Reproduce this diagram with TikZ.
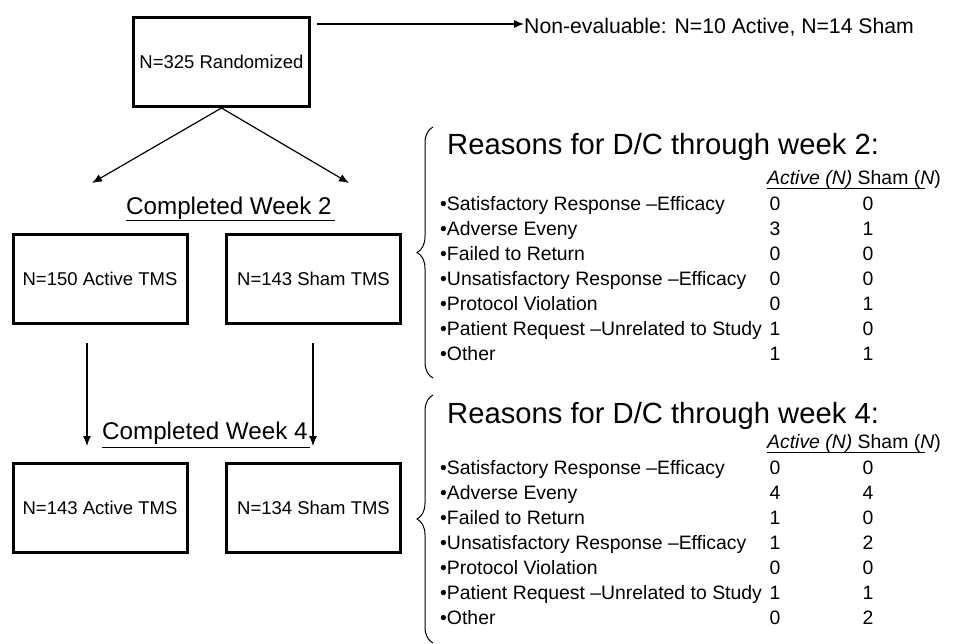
\documentclass[tikz,border=0pt]{standalone}
\usepackage{fontspec}
\setmainfont{Liberation Sans}
\usetikzlibrary{arrows.meta,decorations.pathreplacing}
\tikzstyle{block} = [rectangle, draw, line width=3pt, text centered, minimum width=174pt, minimum height=89pt, font=\fontsize{18.5}{22}\selectfont]
\tikzstyle{weeklabel} = [inner sep=0pt, anchor=base west, font=\fontsize{24.2}{28}\selectfont]
\tikzstyle{heading} = [inner sep=0pt, anchor=base west, font=\fontsize{29.2}{34}\selectfont]
\tikzstyle{reason} = [inner sep=0pt, anchor=base west, font=\fontsize{19.4}{23}\selectfont]
\tikzstyle{count} = [inner sep=0pt, anchor=base, font=\fontsize{19.4}{23}\selectfont]
\tikzstyle{bracket} = [decorate, decoration={brace, amplitude=16pt}, line width=1pt]

\begin{document}
\begin{tikzpicture}[x=1pt, y=1pt, node distance=213.5pt, >={Latex[length=10pt,width=8pt]}]
   \useasboundingbox (0,0) rectangle (977,-643);
   % nodes
   \node[block, minimum width=176pt] (rand) at (221.5,-62)   {N=325 Randomized};
   \node[block] (act2)  at (100,-279)                         {N=150 Active TMS};
   \node[block] (sham2) [right of=act2]                       {N=143 Sham TMS};
   \node[block] (act4)  [below of=act2, node distance=228.5pt] {N=143 Active TMS};
   \node[block] (sham4) [right of=act4]                       {N=134 Sham TMS};
   \node[weeklabel] (wk2) at (126,-214) {Completed Week 2};
   \node[weeklabel] (wk4) at (102,-439) {Completed Week 4};
   \node[inner sep=0pt, anchor=base west, font=\fontsize{21.2}{25}\selectfont] (noneval) at (524,-33) {Non-evaluable: N=10 Active, N=14 Sham};

   \coordinate (nstart) at (317,-24);
   \coordinate (tipl) at (92,-183);
   \coordinate (tipr) at (349,-183);
   \coordinate (actout) at (87,-343);
   \coordinate (actin)  at (87,-446);
   \coordinate (shamout) at (313,-343);
   \coordinate (shamin)  at (313,-446);

   % edges
   \draw[->, line width=1.2pt] (nstart) -- (nstart -| noneval.west);
   \draw[->, line width=1.2pt] (rand.south) -- (tipl);
   \draw[->, line width=1.2pt] (rand.south) -- (tipr);
   \draw[->, line width=1.2pt] (actout) -- (actin);
   \draw[->, line width=1.2pt] (shamout) -- (shamin);
   \draw[line width=1pt] ([yshift=-6pt]wk2.base west) -- ([xshift=3pt,yshift=-6pt]wk2.base east);
   \draw[line width=1pt] ([yshift=-8pt]wk4.base west) -- ([xshift=2pt,yshift=-8pt]wk4.base east);

   % reasons through week 2
   \draw[bracket] (433,-378) -- (433,-127);
   \node[heading] (why2) at (447,-154) {Reasons for D/C through week 2:};
   \node[reason] (hdr2) at (767,-184) {\textit{Active (N)} Sham (\textit{N})};
   \draw[line width=0.8pt] ([yshift=-4pt]hdr2.base west) -- ++(158,0);
   \foreach \lbl/\a/\s [count=\i from 0] in {Satisfactory Response –Efficacy/0/0, Adverse Eveny/3/1, Failed to Return/0/0, Unsatisfactory Response –Efficacy/0/0, Protocol Violation/0/1, Patient Request –Unrelated to Study/1/0, Other/1/1}{
      \node[reason] (rwa\i) at (440,{-210-25*\i}) {•\lbl};
      \node[count]  (rwb\i) at (775,{-210-25*\i}) {\a};
      \node[count]  (rwc\i) at (868,{-210-25*\i}) {\s};
   }

   % reasons through week 4
   \draw[bracket] (433,-643) -- (433,-395);
   \node[heading] (why4) at (447,-423) {Reasons for D/C through week 4:};
   \node[reason] (hdr4) at (767,-448) {\textit{Active (N)} Sham (\textit{N})};
   \draw[line width=0.8pt] ([yshift=-4pt]hdr4.base west) -- ++(158,0);
   \foreach \lbl/\a/\s [count=\i from 0] in {Satisfactory Response –Efficacy/0/0, Adverse Eveny/4/4, Failed to Return/1/0, Unsatisfactory Response –Efficacy/1/2, Protocol Violation/0/0, Patient Request –Unrelated to Study/1/1, Other/0/2}{
      \node[reason] (rxa\i) at (440,{-474-25*\i}) {•\lbl};
      \node[count]  (rxb\i) at (775,{-474-25*\i}) {\a};
      \node[count]  (rxc\i) at (868,{-474-25*\i}) {\s};
   }
\end{tikzpicture}
\end{document}
